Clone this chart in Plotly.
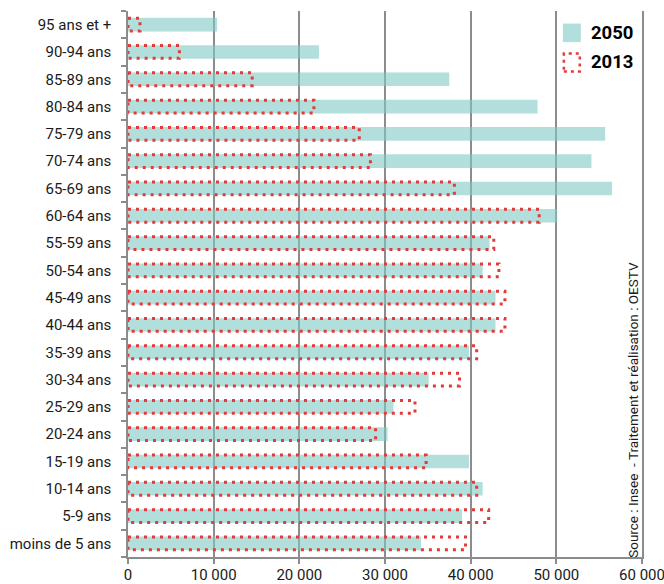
import plotly.graph_objects as go

categories = ["95 ans et +", "90-94 ans", "85-89 ans", "80-84 ans", "75-79 ans",
              "70-74 ans", "65-69 ans", "60-64 ans", "55-59 ans", "50-54 ans",
              "45-49 ans", "40-44 ans", "35-39 ans", "30-34 ans", "25-29 ans",
              "20-24 ans", "15-19 ans", "10-14 ans", "5-9 ans", "moins de 5 ans"]

pop_2050 = [10400, 22300, 37500, 47800, 55700, 54100, 56500, 50100, 42200, 41400,
            42900, 42900, 39800, 35100, 31000, 30300, 39800, 41400, 39000, 34200]

pop_2013 = [1400, 6000, 14500, 21700, 27000, 28300, 38100, 48000, 42700, 43300,
            44000, 44000, 40700, 38700, 33500, 28900, 34800, 40700, 42100, 39400]

x_tick_values = [0, 10000, 20000, 30000, 40000, 50000, 60000]
x_tick_labels = ["0", "10 000", "20 000", "30 000", "40 000", "50 000", "60 000"]

series_names = ["2050", "2013"]
source_text = "Source : Insee  - Traitement et réalisation : OESTV"

FONT = "Roboto"
TEAL = "rgba(127,202,197,0.6)"
TEAL_SOLID = "#b2dfdc"
RED = "#e23b3b"
GRID = "#8c8c8c"
DOT = "3px,5px"

idx = list(range(len(categories)))

fig = go.Figure()

fig.add_trace(go.Bar(
    y=idx, x=pop_2050, orientation="h", width=0.5,
    marker=dict(color=TEAL, line=dict(width=0)),
    name=series_names[0], showlegend=False, hoverinfo="x",
))

# 2013 outlines: dotted rectangles built from the data
h = 0.235
ox, oy = [], []
for i, v in zip(idx, pop_2013):
    ox += [0, v, v, 0, 0, None]
    oy += [i - h, i - h, i + h, i + h, i - h, None]

fig.add_trace(go.Scatter(
    x=ox, y=oy, mode="lines",
    line=dict(color=RED, width=3, dash=DOT),
    name=series_names[1], showlegend=False, hoverinfo="skip",
))

fig.update_layout(
    width=664, height=584,
    margin=dict(l=128, r=22, t=11, b=27),
    paper_bgcolor="white", plot_bgcolor="white",
    font=dict(family=FONT, size=15, color="#1a1a1a"),
    barmode="overlay",
    showlegend=False,
)

fig.update_xaxes(
    range=[0, 60000], tickmode="array", tickvals=x_tick_values, ticktext=x_tick_labels,
    showgrid=True, gridcolor=GRID, gridwidth=1.5,
    showline=True, linecolor=GRID, linewidth=1.5,
    ticks="outside", ticklen=5, tickcolor=GRID, tickwidth=1.5,
    ticklabelstandoff=-2, ticklabeloverflow="allow",
    zeroline=False, automargin=False, tickfont=dict(size=15, family=FONT),
)

fig.update_yaxes(
    range=[len(categories) - 0.5, -0.5],
    tickmode="array", tickvals=idx, ticktext=categories,
    ticks="", showgrid=False, zeroline=False,
    showline=True, linecolor=GRID, linewidth=1.5, mirror=True,
    ticklabelstandoff=12, automargin=False,
    minor=dict(tickmode="array", tickvals=[i - 0.5 for i in range(len(categories) + 1)],
               ticks="outside", ticklen=5, tickcolor=GRID, tickwidth=1.5, showgrid=False),
    tickfont=dict(size=15, family=FONT),
)

# Legend drawn manually
fig.add_shape(type="rect", xref="paper", yref="paper",
              x0=0.846, x1=0.881, y0=0.943, y1=0.977,
              fillcolor=TEAL_SOLID, line=dict(width=0))
fig.add_shape(type="rect", xref="paper", yref="paper",
              x0=0.848, x1=0.879, y0=0.889, y1=0.922,
              fillcolor="rgba(0,0,0,0)", line=dict(color=RED, width=2.5, dash="3px,4px"))
fig.add_annotation(xref="paper", yref="paper", x=0.897, y=0.960, xanchor="left", yanchor="middle",
                   text="<b>%s</b>" % series_names[0], showarrow=False,
                   font=dict(size=18.5, family=FONT, color="#000"))
fig.add_annotation(xref="paper", yref="paper", x=0.897, y=0.906, xanchor="left", yanchor="middle",
                   text="<b>%s</b>" % series_names[1], showarrow=False,
                   font=dict(size=18.5, family=FONT, color="#000"))

fig.add_annotation(xref="paper", yref="paper", x=0.981, y=0.27, xanchor="center", yanchor="middle",
                   text=source_text, textangle=-90, showarrow=False,
                   font=dict(size=13.5, family=FONT, color="#1a1a1a"))

fig.write_html("out.html", config={"displayModeBar": False},
               post_script="document.body.style.margin='0';document.body.style.overflow='hidden';")
